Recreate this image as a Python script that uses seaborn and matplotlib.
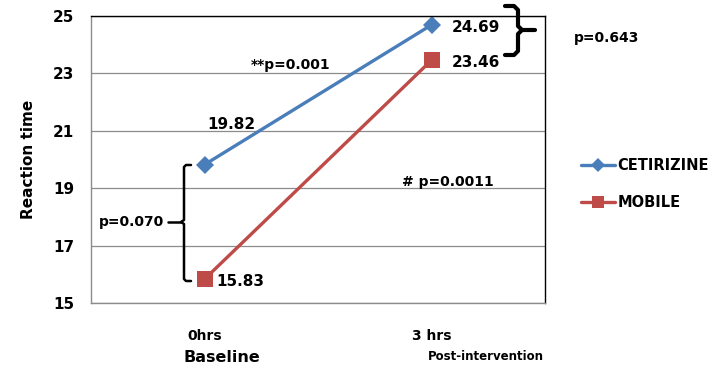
import matplotlib
matplotlib.use("Agg")
import matplotlib.pyplot as plt
import seaborn as sns
import pandas as pd
from matplotlib.lines import Line2D

categories = ["0hrs", "3 hrs"]
cetirizine = [19.82, 24.69]
mobile = [15.83, 23.46]
series_names = ["CETIRIZINE", "MOBILE"]
yticks = [15, 17, 19, 21, 23, 25]

sns.set_theme(style="white")
plt.rcParams['font.family'] = ['DejaVu Sans']
plt.rcParams['font.weight'] = 'bold'
for k in ['text.color', 'axes.labelcolor', 'xtick.color', 'ytick.color']:
    plt.rcParams[k] = 'black'

df = pd.DataFrame({
    "time": categories * 2,
    "value": cetirizine + mobile,
    "group": [series_names[0]] * 2 + [series_names[1]] * 2,
})

W, H = 723, 369
fig = plt.figure(figsize=(W / 100, H / 100), dpi=100)
ax = fig.add_axes([91 / W, 1 - 303 / H, 454 / W, 287 / H])

colors = {"CETIRIZINE": "#4A7EBB", "MOBILE": "#BE4B48"}
sns.lineplot(data=df, x="time", y="value", hue="group", style="group",
             markers={"CETIRIZINE": "D", "MOBILE": "s"}, dashes=False,
             palette=colors, linewidth=2.4, markersize=9, markeredgewidth=0,
             ax=ax, legend=False, sort=False)
for line in ax.lines:
    if line.get_marker() == "s":
        line.set_markersize(11)

ax.set_xlim(-0.5, 1.5)
ax.set_ylim(15, 25)
ax.set_yticks(yticks)
ax.set_yticklabels([str(t) for t in yticks], fontsize=11, fontweight='bold')
ax.yaxis.grid(True, color="#8c8c8c", linewidth=0.9)
ax.set_axisbelow(True)
ax.tick_params(axis='y', length=0, pad=12)
ax.tick_params(axis='x', length=0, pad=19)
ax.set_xticks([0, 1])
ax.set_xticklabels(categories, fontsize=10, fontweight='bold')
ax.set_xlabel("")
ax.set_ylabel("Reaction time", fontsize=11, fontweight='bold', labelpad=12)
for s in ["top", "right"]:
    ax.spines[s].set_color("black")
    ax.spines[s].set_linewidth(1.0)
for s in ["left", "bottom"]:
    ax.spines[s].set_color("#8c8c8c")
    ax.spines[s].set_linewidth(1.0)

fig.text(222 / W, 1 - 358 / H, "Baseline", ha="center", va="center", fontsize=11.5, fontweight='bold')
fig.text(486 / W, 1 - 357 / H, "Post-intervention", ha="center", va="center", fontsize=8.5, fontweight='bold')

# value labels
ax.annotate(f"{cetirizine[0]:.2f}", (0, cetirizine[0]), xytext=(27, 40), textcoords="offset pixels",
            ha="center", va="center", fontsize=11, fontweight='bold')
ax.annotate(f"{mobile[0]:.2f}", (0, mobile[0]), xytext=(36, -2), textcoords="offset pixels",
            ha="center", va="center", fontsize=11, fontweight='bold')
ax.annotate(f"{cetirizine[1]:.2f}", (1, cetirizine[1]), xytext=(44, -3), textcoords="offset pixels",
            ha="center", va="center", fontsize=11, fontweight='bold', annotation_clip=False)
ax.annotate(f"{mobile[1]:.2f}", (1, mobile[1]), xytext=(44, -2), textcoords="offset pixels",
            ha="center", va="center", fontsize=11, fontweight='bold')

# p-values
fig.text(291 / W, 1 - 65 / H, "**p=0.001", ha="center", va="center", fontsize=10, fontweight='bold')
fig.text(448 / W, 1 - 182 / H, "# p=0.0011", ha="center", va="center", fontsize=10, fontweight='bold')
fig.text(607 / W, 1 - 38 / H, "p=0.643", ha="center", va="center", fontsize=10, fontweight='bold')
fig.text(131 / W, 1 - 222 / H, "p=0.070", ha="center", va="center", fontsize=10, fontweight='bold')

def px(pts):
    return [p[0] / W for p in pts], [1 - p[1] / H for p in pts]

# left brace
xs, ys = px([(191, 165), (186, 165), (184, 167), (184, 220), (181, 222), (184, 224), (184, 279), (186, 281), (191, 281)])
fig.lines.append(Line2D(xs, ys, transform=fig.transFigure, color="black", linewidth=1.8,
                        solid_joinstyle="round"))
xs, ys = px([(181, 222), (168, 222)])
fig.lines.append(Line2D(xs, ys, transform=fig.transFigure, color="black", linewidth=1.8))

# right brace
xs, ys = px([(505, 6), (514, 6), (518, 10), (518, 26), (522, 30), (518, 34), (518, 51), (514, 55), (505, 55)])
fig.lines.append(Line2D(xs, ys, transform=fig.transFigure, color="black", linewidth=3.0,
                        solid_joinstyle="round"))
xs, ys = px([(522, 30), (535, 30)])
fig.lines.append(Line2D(xs, ys, transform=fig.transFigure, color="black", linewidth=3.0))

# legend
handles = [
    Line2D([], [], color=colors["CETIRIZINE"], marker="D", markersize=7, linewidth=2.4, markeredgewidth=0),
    Line2D([], [], color=colors["MOBILE"], marker="s", markersize=9, linewidth=2.4, markeredgewidth=0),
]
fig.legend(handles, series_names, loc="center left", bbox_to_anchor=(568 / W, 1 - 184 / H),
           frameon=False, prop={"weight": "bold", "size": 10.5}, handlelength=2.3,
           handletextpad=0.2, labelspacing=1.5)

fig.savefig("out.png", dpi=100)
